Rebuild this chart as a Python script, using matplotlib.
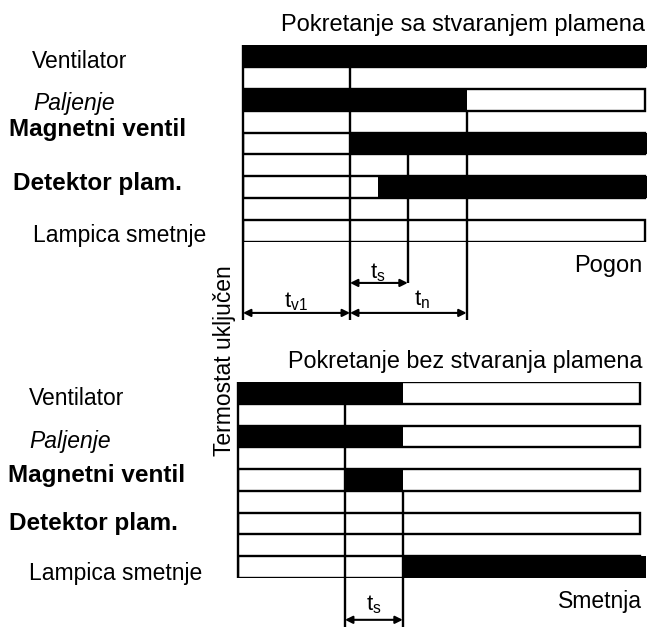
import matplotlib
matplotlib.use("Agg")
import matplotlib.pyplot as plt
from matplotlib.patches import Rectangle

# --- Data: burner start sequence (time units, thermostat on at t = 0) ---
SIGNALS = ["Ventilator", "Paljenje", "Magnetni ventil", "Detektor plam.", "Lampica smetnje"]
WEIGHTS = ["normal", "normal", "bold", "bold", "normal"]
STYLES = ["normal", "italic", "normal", "normal", "normal"]

T_V1 = 10.0     # end of pre-ventilation
T_FLAME = 12.6  # flame detected
T_S = 15.4      # end of safety time
T_N = 20.9      # end of post-ignition
T_END = 37.6    # end of drawn window
T_ON = 40.0     # still on at end of window

# start with flame -> operation
top_on = [
    [(0, T_ON)],
    [(0, T_N)],
    [(T_V1, T_ON)],
    [(T_FLAME, T_ON)],
    [],
]
# start without flame -> lockout
bot_on = [
    [(0, T_S)],
    [(0, T_S)],
    [(T_V1, T_S)],
    [],
    [(T_S, T_ON)],
]

W, H = 647, 632
LW = 1.7


def px(x, y):
    return x / W, 1 - y / H


plt.rcParams["font.family"] = ["Liberation Sans", "DejaVu Sans"]
plt.rcParams["mathtext.fontset"] = "custom"
plt.rcParams["mathtext.rm"] = "Liberation Sans"

fig = plt.figure(figsize=(W / 100, H / 100), dpi=100)

# --- axes for the two panels (x = time, y = strip index) ---
ax_top = fig.add_axes([243 / W, 1 - 242 / H, 404 / W, 197 / H])
ax_top.set_xlim(0, 404 / 10.7)
ax_top.set_ylim(9, 0)
ax_bot = fig.add_axes([238 / W, 1 - 578 / H, 408 / W, 196 / H])
ax_bot.set_xlim(0, 408 / 10.7)
ax_bot.set_ylim(9, 0)


def draw_panel(ax, on_lists):
    for i, intervals in enumerate(on_lists):
        y = 2 * i
        if intervals:
            ax.broken_barh([(a, b - a) for a, b in intervals], (y, 1),
                           facecolors="black", zorder=3)
        ax.add_patch(Rectangle((0, y), T_END, 1, fill=False, lw=LW,
                               ec="black", zorder=4))
    ax.axis("off")


def vline(ax, t, y0, y1):
    ax.plot([t, t], [y0, y1], color="black", lw=LW, zorder=2,
            clip_on=False, solid_capstyle="butt")


def arrow(ax, t0, t1, y):
    ax.annotate("", xy=(t1, y), xytext=(t0, y), annotation_clip=False,
                arrowprops=dict(arrowstyle="<|-|>", color="black", lw=1.5,
                                mutation_scale=11, shrinkA=0, shrinkB=0))


draw_panel(ax_top, top_on)
vline(ax_top, 0, 0, 12.56)
vline(ax_top, T_V1, 1, 12.56)
vline(ax_top, T_N, 3, 12.56)
vline(ax_top, T_S, 5, 10.87)
arrow(ax_top, T_V1, T_S, 10.87)
arrow(ax_top, 0, T_V1, 12.24)
arrow(ax_top, T_V1, T_N, 12.24)

draw_panel(ax_bot, bot_on)
vline(ax_bot, 0, 0, 9)
vline(ax_bot, T_V1, 1, 11.24)
vline(ax_bot, T_S, 5, 11.24)
arrow(ax_bot, T_V1, T_S, 10.92)

# --- text ---
SIZES = [16.5, 16.5, 17.5, 17.5, 16.5]
top_label_pos = [(32, 68), (33, 110), (9, 136), (13, 190), (33, 242)]
bot_label_pos = [(29, 405), (29, 448), (8, 482), (9, 530), (29, 580)]
for name, wt, st, fs, (x, y) in zip(SIGNALS, WEIGHTS, STYLES, SIZES, top_label_pos):
    fig.text(*px(x, y), name, fontsize=fs, fontweight=wt, fontstyle=st,
             ha="left", va="baseline")
for name, wt, st, fs, (x, y) in zip(SIGNALS, WEIGHTS, STYLES, SIZES, bot_label_pos):
    fig.text(*px(x, y), name, fontsize=fs, fontweight=wt, fontstyle=st,
             ha="left", va="baseline")

fig.text(*px(645, 31), "Pokretanje sa stvaranjem plamena", fontsize=17,
         ha="right", va="baseline")
fig.text(*px(642, 368), "Pokretanje bez stvaranja plamena", fontsize=16.8,
         ha="right", va="baseline")
fig.text(*px(642, 272), "Pogon", fontsize=17, ha="right", va="baseline")
fig.text(*px(642, 608), "Smetnja", fontsize=16.5, ha="right", va="baseline")
fig.text(*px(225, 361), "Termostat uključen", fontsize=16.5, rotation=90,
         ha="center", va="center")

fig.text(*px(378, 278), r"$\mathrm{t_s}$", fontsize=16, ha="center", va="baseline")
fig.text(*px(296, 307), r"$\mathrm{t_{v1}}$", fontsize=16, ha="center", va="baseline")
fig.text(*px(422, 305), r"$\mathrm{t_n}$", fontsize=16, ha="center", va="baseline")
fig.text(*px(374, 610), r"$\mathrm{t_s}$", fontsize=16, ha="center", va="baseline")

fig.savefig("out.png", dpi=100)
